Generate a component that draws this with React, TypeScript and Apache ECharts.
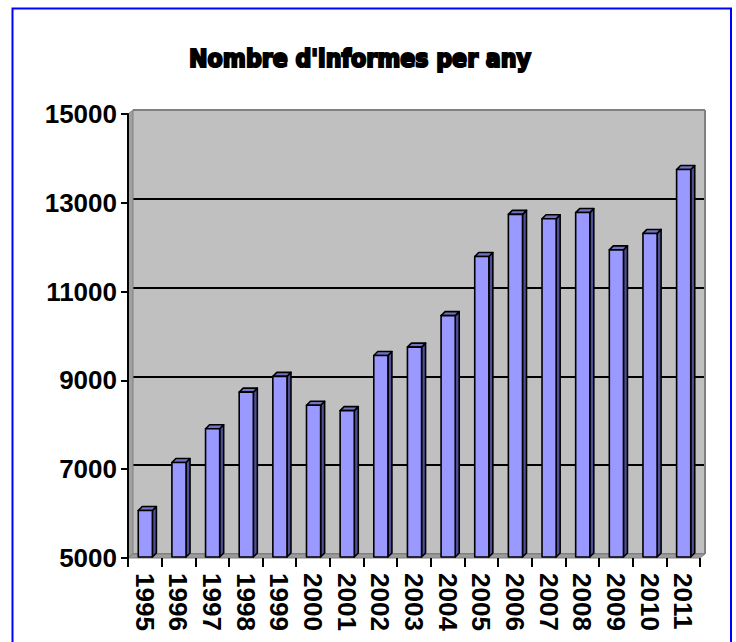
import React, { useEffect, useRef } from "react";
import * as echarts from "echarts";

const TITLE = "Nombre d'informes per any";
const years = ["1995","1996","1997","1998","1999","2000","2001","2002","2003","2004","2005","2006","2007","2008","2009","2010","2011"];
const reports = [6070, 7150, 7910, 8735, 9090, 8440, 8320, 9560, 9750, 10460, 11790, 12740, 12640, 12780, 11940, 12310, 13750];
const Y_MIN = 5000;
const Y_MAX = 15000;
const Y_STEP = 2000;

// layout (pixels)
const FRONT = { left: 128, top: 114, width: 572, height: 444 };
const DEPTH_X = 5;
const DEPTH_Y = 4;
const BACK = { left: FRONT.left + DEPTH_X, top: FRONT.top - DEPTH_Y, width: 572, height: 444 };

const SANS = "Liberation Sans, Arial, sans-serif";
const TITLE_FONT_SIZE = 25;
const TITLE_FAMILY = "DejaVu Sans, sans-serif";
const TITLE_WIDTH = 344;

function measure(text: string, font: string): number {
  const c = document.createElement("canvas");
  const ctx = c.getContext("2d");
  if (!ctx) return 400;
  ctx.font = font;
  return ctx.measureText(text).width;
}

function renderBar(params: any, api: any) {
  const idx = api.value(0);
  const v = api.value(1);
  const top = api.coord([idx, v]);
  const base = api.coord([idx, Y_MIN]);
  const cw = api.size([1, 0])[0];
  const w = cw * 0.42;
  const d = 4;
  const x0 = top[0] - w / 2 + 0.5;
  const yT = top[1];
  const yB = base[1] - 1;
  const stroke = { stroke: "#000", lineWidth: 1.6, lineJoin: "round" };
  return {
    type: "group",
    children: [
      {
        type: "polygon",
        shape: { points: [[x0 + w, yT], [x0 + w + d, yT - d], [x0 + w + d, yB - d], [x0 + w, yB]] },
        style: { fill: "#4f4f96", ...stroke },
      },
      {
        type: "polygon",
        shape: { points: [[x0, yT], [x0 + d, yT - d], [x0 + w + d, yT - d], [x0 + w, yT]] },
        style: { fill: "#7373c4", ...stroke },
      },
      {
        type: "rect",
        shape: { x: x0, y: yT, width: w, height: yB - yT },
        style: { fill: "#9999ff", ...stroke },
      },
    ],
  };
}

export default function App() {
  const ref = useRef<HTMLDivElement>(null);
  useEffect(() => {
    if (!ref.current) return;
    const chart = echarts.init(ref.current, null, { renderer: "svg" });
    const tw = measure(TITLE, `bold ${TITLE_FONT_SIZE}px DejaVu Sans`) + 2;
    const titleScale = TITLE_WIDTH / tw;
    const fl = FRONT.left, ft = FRONT.top, fr = FRONT.left + FRONT.width, fb = FRONT.top + FRONT.height;
    const bl = BACK.left, bt = BACK.top, br = BACK.left + BACK.width, bb = BACK.top + BACK.height;
    const option: any = {
      animation: false,
      backgroundColor: "#ffffff",
      grid: [
        { left: FRONT.left, top: FRONT.top, width: FRONT.width, height: FRONT.height },
        { left: BACK.left, top: BACK.top, width: BACK.width, height: BACK.height, show: true, backgroundColor: "#c0c0c0", borderWidth: 0 },
      ],
      xAxis: [
        {
          gridIndex: 0,
          type: "category",
          data: years,
          z: 10,
          axisLine: { show: false },
          axisTick: { show: true, length: 9, lineStyle: { color: "#000", width: 2 } },
          axisLabel: {
            interval: 0,
            rotate: -90,
            margin: 15,
            fontSize: 26,
            fontWeight: "bold",
            color: "#000",
            fontFamily: SANS,
          },
          splitLine: { show: false },
        },
        { gridIndex: 1, type: "category", data: years, show: false },
      ],
      yAxis: [
        {
          gridIndex: 0,
          type: "value",
          min: Y_MIN,
          max: Y_MAX,
          interval: Y_STEP,
          z: 10,
          axisLine: { show: true, lineStyle: { color: "#000", width: 2 } },
          axisTick: { show: true, length: 7, lineStyle: { color: "#000", width: 2 } },
          axisLabel: {
            margin: 11,
            fontSize: 26,
            fontWeight: "bold",
            color: "#000",
            fontFamily: SANS,
            formatter: (v: number) => String(v),
          },
          splitLine: { show: false },
        },
        {
          gridIndex: 1,
          type: "value",
          min: Y_MIN,
          max: Y_MAX,
          interval: Y_STEP,
          axisLine: { show: false },
          axisTick: { show: false },
          axisLabel: { show: false },
          splitLine: {
            show: true,
            lineStyle: { color: ["#808080", "#000", "#000", "#000", "#000", "#808080"], width: 2 },
          },
        },
      ],
      graphic: [
        {
          type: "polygon",
          z: 1,
          shape: { points: [[fl, ft], [bl, bt], [bl, bb], [fl, fb]] },
          style: { fill: "#a0a0a0", stroke: "#808080", lineWidth: 1 },
        },
        {
          type: "polygon",
          z: 1,
          shape: { points: [[fl, fb], [bl, bb], [br, bb], [fr, fb]] },
          style: { fill: "#9c9c9c", stroke: "#808080", lineWidth: 1 },
        },
        {
          type: "line",
          z: 1,
          shape: { x1: br, y1: bt, x2: br, y2: bb },
          style: { stroke: "#808080", lineWidth: 2 },
        },
        {
          type: "text",
          z: 20,
          x: 360,
          y: 59,
          scaleX: titleScale,
          style: {
            text: TITLE,
            fontSize: TITLE_FONT_SIZE,
            fontWeight: "bold",
            fontFamily: TITLE_FAMILY,
            fill: "#000",
            stroke: "#000",
            lineWidth: 2.2,
            align: "center",
            verticalAlign: "middle",
          },
        },
        {
          type: "rect",
          z: 50,
          shape: { x: 12.5, y: 8.5, width: 718.5, height: 700 },
          style: { fill: "none", stroke: "#0000ff", lineWidth: 2 },
        },
      ],
      series: [
        {
          type: "custom",
          xAxisIndex: 0,
          yAxisIndex: 0,
          z: 5,
          renderItem: renderBar,
          encode: { x: 0, y: 1 },
          data: years.map((_, i) => [i, reports[i]]),
        },
      ],
    };
    chart.setOption(option);
    return () => chart.dispose();
  }, []);
  return <div ref={ref} style={{ position: "absolute", left: 0, top: 0, width: 736, height: 642 }} />;
}
